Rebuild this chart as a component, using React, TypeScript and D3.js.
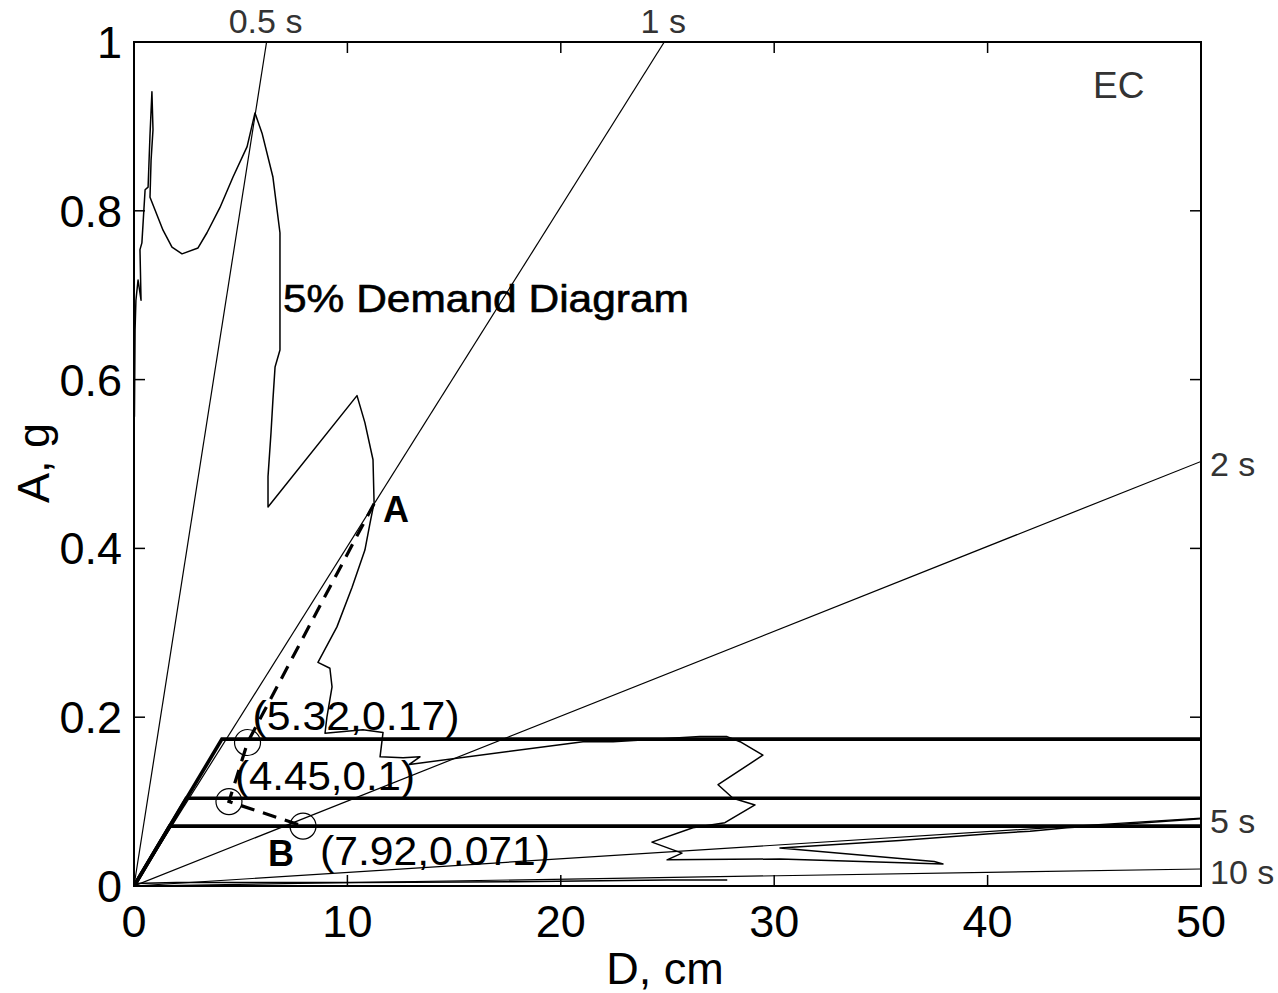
import React from 'react';
import * as d3 from 'd3';

// Radial period lines (s) and their labels
const periods = [0.5, 1, 2, 5, 10];
const periodLabels = ['0.5 s', '1 s', '2 s', '5 s', '10 s'];

const xTicks = [0, 10, 20, 30, 40, 50];
const yTicks = [0, 0.2, 0.4, 0.6, 0.8, 1];

// 5% damped demand spectrum in ADRS format: [D (cm), A (g)]
const spectrum: [number, number][] = [
  [0.02, 0.556], [0.05, 0.659], [0.09, 0.694], [0.19, 0.718], [0.33, 0.694],
  [0.28, 0.754], [0.37, 0.762], [0.42, 0.783], [0.52, 0.825], [0.66, 0.828],
  [0.75, 0.89], [0.84, 0.941], [0.89, 0.896], [0.8, 0.86], [0.75, 0.816],
  [1.36, 0.777], [1.78, 0.757], [2.25, 0.749], [3.0, 0.756], [3.42, 0.774],
  [4.03, 0.804], [4.64, 0.84], [5.3, 0.876], [5.67, 0.916], [6.0, 0.892],
  [6.51, 0.84], [6.84, 0.774], [6.84, 0.635], [6.61, 0.615], [6.51, 0.576],
  [6.42, 0.537], [6.28, 0.485], [6.28, 0.449], [10.45, 0.581], [10.82, 0.549],
  [11.2, 0.505], [11.25, 0.454], [11.06, 0.43], [10.82, 0.398], [10.22, 0.354],
  [9.51, 0.307], [8.62, 0.265], [9.18, 0.258], [9.28, 0.236], [9.04, 0.2],
  [8.95, 0.181], [10.73, 0.185], [11.67, 0.182], [11.53, 0.153], [12.61, 0.152],
  [13.4, 0.153], [12.9, 0.144], [21.04, 0.171], [22.45, 0.171], [26.52, 0.177],
  [27.79, 0.177], [28.4, 0.171], [29.47, 0.155], [27.37, 0.12], [28.07, 0.104],
  [29.1, 0.096], [27.69, 0.075], [26.19, 0.069], [24.27, 0.052], [25.68, 0.039],
  [24.98, 0.031], [30.27, 0.032], [37.91, 0.026], [37.5, 0.029], [30.27, 0.045],
  [35.89, 0.054], [40.11, 0.062], [41.99, 0.065], [43.72, 0.069], [47.37, 0.075],
  [50.2, 0.08],
];

// Long-period branch of the spectrum, close to the D axis
const spectrumTail: [number, number][] = [
  [0, 0.003], [2, 0.004], [5, 0.004], [10.7, 0.004], [17.8, 0.005],
  [25, 0.007], [27.8, 0.007],
];

// Bilinear capacity curves: yield displacement (cm) and yield acceleration (g)
const capacityYieldD = [4.12, 2.45, 1.67];
const capacityYieldA = [0.174, 0.104, 0.071];

// Elastic demand point A and iteration trial points
const pointA: [number, number] = [11.25, 0.453];
const trialD = [5.32, 4.45, 7.92];
const trialA = [0.17, 0.1, 0.071];

const W = 1278;
const H = 993;
const FONT = '"Liberation Sans", Arial, sans-serif';

export default function App() {
  const x = d3.scaleLinear().domain([0, 50]).range([134, 1201]);
  const y = d3.scaleLinear().domain([0, 1]).range([886, 42]);
  const line = d3
    .line<[number, number]>()
    .x((d) => x(d[0]))
    .y((d) => y(d[1]));

  const [x0, x1] = x.range();
  const [y0, y1] = y.range();
  const tickLen = 11;

  const periodLines = periods.map((T, i) => {
    const k = Math.pow((2 * Math.PI) / T, 2) / (100 * 9.81);
    const dEnd = Math.min(50, 1 / k);
    const aEnd = k * dEnd;
    return { T, label: periodLabels[i], dEnd, aEnd };
  });

  const capacities = capacityYieldD.map((dy, i) => [
    [0, 0],
    [dy, capacityYieldA[i]],
    [50, capacityYieldA[i]],
  ] as [number, number][]);

  const iterPath: [number, number][] = [
    pointA,
    ...trialD.map((d, i) => [d, trialA[i]] as [number, number]),
  ];

  const fmt = (v: number) => String(v);
  const labelOffsets = [
    [5, -13],
    [6, -12],
    [17, 39],
  ];
  const labelWidths = [207, 180, 230];

  return (
    <svg
      width={W}
      height={H}
      style={{ position: 'absolute', left: 0, top: 0, background: '#fff' }}
      fontFamily={FONT}
    >
      <defs>
        <clipPath id="plot-area">
          <rect x={x0} y={y1} width={x1 - x0} height={y0 - y1} />
        </clipPath>
      </defs>
      <rect x={0} y={0} width={W} height={H} fill="#fff" />

      <g clipPath="url(#plot-area)" fill="none" stroke="#000">
        {periodLines.map((p) => (
          <line
            key={p.T}
            x1={x(0)}
            y1={y(0)}
            x2={x(p.dEnd)}
            y2={y(p.aEnd)}
            strokeWidth={1.2}
          />
        ))}
        <path d={line(spectrum) ?? ''} strokeWidth={1.5} strokeLinejoin="round" />
        <path d={line(spectrumTail) ?? ''} strokeWidth={1.5} />
        {capacities.map((c, i) => (
          <path key={i} d={line(c) ?? ''} strokeWidth={3.6} />
        ))}
        <path
          d={line(iterPath) ?? ''}
          strokeWidth={3.2}
          strokeDasharray="14 9"
        />
        {trialD.map((d, i) => (
          <circle key={i} cx={x(d)} cy={y(trialA[i])} r={13} strokeWidth={1.2} />
        ))}
      </g>

      {/* axes box with inward ticks */}
      <rect
        x={x0}
        y={y1}
        width={x1 - x0}
        height={y0 - y1}
        fill="none"
        stroke="#000"
        strokeWidth={2}
      />
      <g stroke="#000" strokeWidth={1.5}>
        {xTicks.map((t) => (
          <g key={'x' + t}>
            <line x1={x(t)} x2={x(t)} y1={y0} y2={y0 - tickLen} />
            <line x1={x(t)} x2={x(t)} y1={y1} y2={y1 + tickLen} />
          </g>
        ))}
        {yTicks.map((t) => (
          <g key={'y' + t}>
            <line x1={x0} x2={x0 + tickLen} y1={y(t)} y2={y(t)} />
            <line x1={x1} x2={x1 - tickLen} y1={y(t)} y2={y(t)} />
          </g>
        ))}
      </g>

      <g fontSize={45} fill="#000">
        {xTicks.map((t) => (
          <text key={'xl' + t} x={x(t)} y={937} textAnchor="middle">
            {fmt(t)}
          </text>
        ))}
        {yTicks.map((t) => (
          <text key={'yl' + t} x={122} y={y(t) + 16} textAnchor="end">
            {fmt(t)}
          </text>
        ))}
        <text x={665} y={984} textAnchor="middle">
          D, cm
        </text>
        <text transform="translate(49,463) rotate(-90)" textAnchor="middle">
          A, g
        </text>
      </g>

      {/* period line labels */}
      <g fontSize={34} fill="#333">
        {periodLines.map((p) =>
          p.dEnd < 50 ? (
            <text key={p.T} x={x(p.dEnd) - 1} y={33} textAnchor="middle">
              {p.label}
            </text>
          ) : (
            <text key={p.T} x={1210} y={y(p.aEnd) + 15}>
              {p.label}
            </text>
          )
        )}
        <text x={1093} y={98} fontSize={37}>
          EC
        </text>
      </g>

      <text
        x={283}
        y={312}
        fontSize={38}
        textLength={406}
        lengthAdjust="spacingAndGlyphs"
        fill="#000"
        stroke="#000"
        strokeWidth={0.6}
      >
        5% Demand Diagram
      </text>

      <text x={x(pointA[0]) + 9} y={y(pointA[1]) + 18} fontSize={36} fontWeight="bold">
        A
      </text>
      <text
        x={x(trialD[2]) - 35}
        y={y(trialA[2]) + 40}
        fontSize={36}
        fontWeight="bold"
      >
        B
      </text>

      {trialD.map((d, i) => (
        <text
          key={'pl' + i}
          x={x(d) + labelOffsets[i][0]}
          y={y(trialA[i]) + labelOffsets[i][1]}
          fontSize={40}
          textLength={labelWidths[i]}
          lengthAdjust="spacingAndGlyphs"
        >
          ({fmt(d)},{fmt(trialA[i])})
        </text>
      ))}
    </svg>
  );
}
